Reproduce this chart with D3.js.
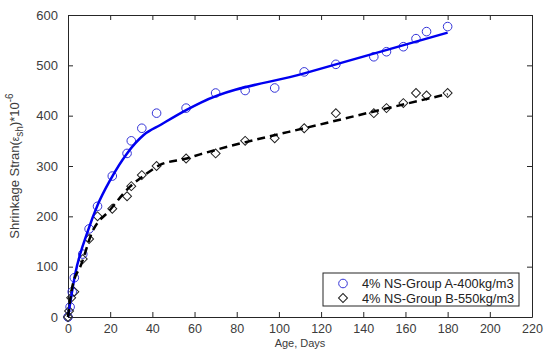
<!DOCTYPE html>
<html>
<head>
<meta charset="utf-8">
<script src="https://cdn.jsdelivr.net/npm/d3@7"></script>
<style>
  body { margin: 0; background: #fff; }
  text { font-family: "Liberation Sans", Arial, sans-serif; }
</style>
</head>
<body>
<div id="chart"></div>
<script>
// measured data, Group A (circles)
var daysA = [0, 1, 2, 3, 7, 10, 14, 21, 28, 30, 35, 42, 56, 70, 84, 98, 112, 127, 145, 151, 159, 165, 170, 180];
var strainA = [0, 20, 50, 78, 125, 175, 220, 280, 325, 350, 375, 405, 415, 445, 450, 455, 487, 502, 517, 527, 537, 553, 567, 577];
// measured data, Group B (diamonds)
var daysB = [0, 0.5, 1.5, 3, 7, 10, 14, 21, 28, 30, 35, 42, 56, 70, 84, 98, 112, 127, 145, 151, 159, 165, 170, 180];
var strainB = [0, 12, 38, 50, 115, 155, 200, 215, 240, 260, 282, 300, 315, 325, 350, 355, 375, 405, 405, 415, 425, 445, 440, 445];
// fitted curves
var fitDaysA = [0, 3.3, 9.6, 14, 20, 28, 36, 44, 56, 63, 112, 180];
var fitA = [0, 83, 173, 222, 272, 325, 362, 382, 411, 426, 484, 565];
var fitDaysB = [0, 1.75, 6.5, 11.2, 20, 29.4, 35.7, 43.6, 56.3, 62.6, 122, 180];
var fitB = [0, 54, 107, 166, 213, 259, 280, 302, 315, 323, 385, 443];

var xTicks = [0, 20, 40, 60, 80, 100, 120, 140, 160, 180, 200, 220];
var yTicks = [0, 100, 200, 300, 400, 500, 600];
var legendLabels = ["4% NS-Group A-400kg/m3", "4% NS-Group B-550kg/m3"];

var width = 544, height = 349;
var margin = { top: 15, right: 12, bottom: 32, left: 68 };
var plotW = width - margin.left - margin.right;
var plotH = height - margin.top - margin.bottom;

var svg = d3.select("#chart").append("svg")
  .attr("width", width)
  .attr("height", height);

var x = d3.scaleLinear().domain([0, 220]).range([0, plotW]);
var y = d3.scaleLinear().domain([0, 600]).range([plotH, 0]);

var g = svg.append("g").attr("transform", "translate(" + margin.left + "," + margin.top + ")");

var axisColor = "#262626";
var labelColor = "#3c3c3c";

// axes, MATLAB style box with inward ticks
function styleAxis(sel, showLabels, size) {
  sel.select(".domain").attr("stroke", axisColor).attr("stroke-width", 1);
  sel.selectAll(".tick line").attr("stroke", axisColor);
  sel.selectAll(".tick text")
    .attr("fill", labelColor)
    .style("font-size", size)
    .style("display", showLabels ? null : "none");
}

g.append("g").attr("transform", "translate(0," + plotH + ")")
  .call(d3.axisBottom(x).tickValues(xTicks).tickSizeInner(-5).tickSizeOuter(0).tickPadding(7))
  .call(styleAxis, true, "12.5px");
g.append("g")
  .call(d3.axisTop(x).tickValues(xTicks).tickSizeInner(-5).tickSizeOuter(0))
  .call(styleAxis, false, "12.5px");
g.append("g")
  .call(d3.axisLeft(y).tickValues(yTicks).tickSizeInner(-5).tickSizeOuter(0).tickPadding(10))
  .call(styleAxis, true, "13px");
g.append("g").attr("transform", "translate(" + plotW + ",0)")
  .call(d3.axisRight(y).tickValues(yTicks).tickSizeInner(-5).tickSizeOuter(0))
  .call(styleAxis, false, "13px");

// axis titles
var yTitle = svg.append("text")
  .attr("transform", "translate(19," + (margin.top + plotH / 2) + ") rotate(-90)")
  .attr("text-anchor", "middle")
  .attr("fill", labelColor)
  .style("font-size", "13px");
yTitle.append("tspan").text("Shrinkage Stran(");
yTitle.append("tspan").text("\u03b5").style("font-size", "10px");
yTitle.append("tspan").text("sh").attr("dy", 4).style("font-size", "10px");
yTitle.append("tspan").text(")*10").attr("dy", -4);
yTitle.append("tspan").text("-6").attr("dy", -6).style("font-size", "10px");

svg.append("text")
  .attr("x", margin.left + plotW / 2)
  .attr("y", 346.5)
  .attr("text-anchor", "middle")
  .attr("fill", labelColor)
  .style("font-size", "11px")
  .text("Age, Days");

var seriesA = daysA.map(function(d, i) { return [d, strainA[i]]; });
var seriesB = daysB.map(function(d, i) { return [d, strainB[i]]; });
var fitLineA = fitDaysA.map(function(d, i) { return [d, fitA[i]]; });
var fitLineB = fitDaysB.map(function(d, i) { return [d, fitB[i]]; });

var diamond = d3.symbol().type(d3.symbolSquare).size(40);

// markers
g.selectAll(".ptA").data(seriesA).enter().append("circle")
  .attr("cx", function(d) { return x(d[0]); })
  .attr("cy", function(d) { return y(d[1]); })
  .attr("r", 4.3)
  .attr("fill", "none")
  .attr("stroke", "#3434d8")
  .attr("stroke-width", 1);

g.selectAll(".ptB").data(seriesB).enter().append("path")
  .attr("d", diamond)
  .attr("transform", function(d) { return "translate(" + x(d[0]) + "," + y(d[1]) + ") rotate(45)"; })
  .attr("fill", "none")
  .attr("stroke", "#222")
  .attr("stroke-width", 1);

// fitted curves
var line = d3.line()
  .x(function(d) { return x(d[0]); })
  .y(function(d) { return y(d[1]); })
  .curve(d3.curveMonotoneX);

g.append("path").datum(fitLineA)
  .attr("d", line)
  .attr("fill", "none")
  .attr("stroke", "#0000f0")
  .attr("stroke-width", 2.5);

g.append("path").datum(fitLineB)
  .attr("d", line)
  .attr("fill", "none")
  .attr("stroke", "#000")
  .attr("stroke-width", 2.5)
  .attr("stroke-dasharray", "8,5");

// legend
var lg = svg.append("g").attr("transform", "translate(323,273)");
lg.append("rect")
  .attr("width", 196).attr("height", 33)
  .attr("fill", "#fff")
  .attr("stroke", axisColor)
  .attr("stroke-width", 1);
lg.append("circle")
  .attr("cx", 20).attr("cy", 10.5).attr("r", 4.3)
  .attr("fill", "none").attr("stroke", "#3434d8");
lg.append("path")
  .attr("d", diamond)
  .attr("transform", "translate(20,25) rotate(45)")
  .attr("fill", "none").attr("stroke", "#222");
lg.selectAll(".lbl").data(legendLabels).enter().append("text")
  .attr("x", 39)
  .attr("y", function(d, i) { return 15 + i * 15; })
  .attr("fill", "#222")
  .style("font-size", "12.8px")
  .text(function(d) { return d; });
</script>
</body>
</html>
